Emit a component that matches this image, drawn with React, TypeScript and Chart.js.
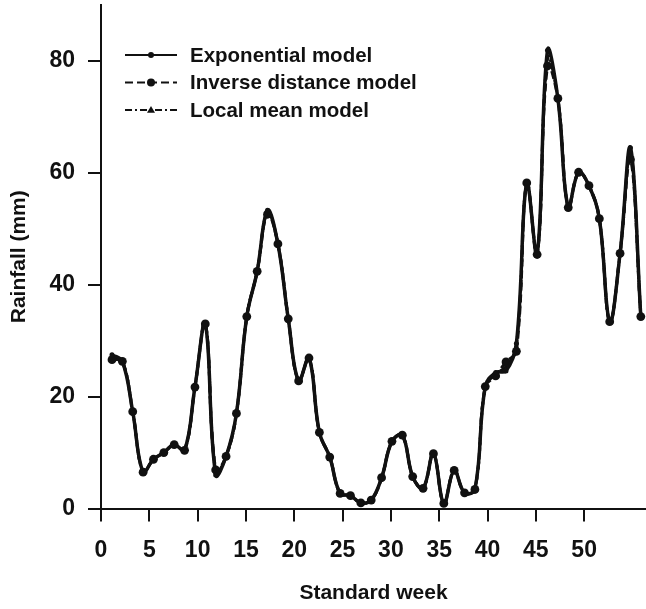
import React, { useEffect, useRef } from "react";
import { Chart, registerables } from "chart.js";

Chart.register(...registerables);

const weeks = [1, 2, 3, 4, 5, 6, 7, 8, 9, 10, 11, 12, 13, 14, 15, 16, 17, 18, 19, 20, 21, 22, 23, 24, 25, 26,
  27, 28, 29, 30, 31, 32, 33, 34, 35, 36, 37, 38, 39, 40, 41, 42, 43, 44, 45, 46, 47, 48, 49, 50, 51, 52];

const exponentialModel = [27.5, 26.3, 17.3, 6.5, 8.8, 10.0, 11.4, 10.4, 21.7, 33.0, 6.0, 9.3, 17.0, 34.3, 42.4, 53.3,
  47.3, 33.9, 22.8, 26.9, 13.6, 9.2, 2.7, 2.3, 1.0, 1.5, 5.5, 12.0, 13.1, 5.7, 3.6, 9.8, 0.9, 6.8, 2.8, 3.4,
  21.8, 24.3, 24.6, 29.5, 58.2, 45.4, 81.9, 73.3, 53.8, 60.1, 57.7, 51.8, 33.4, 45.6, 64.5, 34.3];

const inverseDistanceModel = [26.6, 26.3, 17.3, 6.5, 8.8, 10.0, 11.4, 10.4, 21.7, 33.0, 6.9, 9.3, 17.0, 34.3, 42.4, 52.6,
  47.3, 33.9, 22.8, 26.9, 13.6, 9.2, 2.7, 2.3, 1.0, 1.5, 5.5, 12.0, 13.1, 5.7, 3.6, 9.8, 0.9, 6.8, 2.8, 3.4,
  21.8, 23.7, 26.2, 28.1, 58.2, 45.4, 79.1, 73.3, 53.8, 60.1, 57.7, 51.8, 33.4, 45.6, 62.4, 34.3];

const localMeanModel = [27.0, 26.3, 17.3, 6.5, 8.8, 10.0, 11.4, 10.4, 21.7, 33.0, 6.5, 9.3, 17.0, 34.3, 42.4, 53.0,
  47.3, 33.9, 22.8, 26.9, 13.6, 9.2, 2.7, 2.3, 1.0, 1.5, 5.5, 12.0, 13.1, 5.7, 3.6, 9.8, 0.9, 6.8, 2.8, 3.4,
  21.8, 24.0, 25.4, 29.0, 58.2, 45.4, 80.5, 73.3, 53.8, 60.1, 57.7, 51.8, 33.4, 45.6, 63.5, 34.3];

const seriesLabels = ["Exponential model", "Inverse distance model", "Local mean model"];
const xTitle = "Standard week";
const yTitle = "Rainfall (mm)";

const INK = "#111111";
const FONT = "'Liberation Sans', Arial, Helvetica, sans-serif";

const legendPlugin = {
  id: "insideLegend",
  afterDraw(chart: any) {
    const ctx = chart.ctx;
    const x0 = 125;
    const x1 = 177;
    const mx = 151;
    const textX = 190;
    const y0 = 55;
    const dy = 27.5;
    chart.data.datasets.forEach((ds: any, i: number) => {
      const y = y0 + i * dy;
      ctx.save();
      ctx.strokeStyle = INK;
      ctx.lineWidth = 2;
      ctx.setLineDash(ds.borderDash || []);
      ctx.beginPath();
      ctx.moveTo(x0, y);
      ctx.lineTo(x1, y);
      ctx.stroke();
      ctx.setLineDash([]);
      ctx.fillStyle = INK;
      const r = ds.legendMarker;
      if (ds.pointStyle === "triangle") {
        ctx.beginPath();
        ctx.moveTo(mx, y - r);
        ctx.lineTo(mx + r, y + r * 0.7);
        ctx.lineTo(mx - r, y + r * 0.7);
        ctx.closePath();
        ctx.fill();
      } else {
        ctx.beginPath();
        ctx.arc(mx, y, r, 0, Math.PI * 2);
        ctx.fill();
      }
      ctx.font = `bold 20.5px ${FONT}`;
      ctx.textBaseline = "middle";
      ctx.textAlign = "left";
      ctx.fillText(ds.label, textX, y + 1);
      ctx.restore();
    });
  },
};

const zeroPad = (s: any) => {
  s.paddingLeft = 0;
  s.paddingRight = 0;
  s.paddingTop = 0;
  s.paddingBottom = 0;
};

export default function App() {
  const ref = useRef<HTMLCanvasElement | null>(null);

  useEffect(() => {
    if (!ref.current) return;
    const mk = (vals: number[]) => weeks.map((w, i) => ({ x: w, y: vals[i] }));
    const chart = new Chart(ref.current, {
      type: "line",
      data: {
        datasets: [
          {
            label: seriesLabels[0],
            data: mk(exponentialModel),
            borderColor: INK,
            backgroundColor: INK,
            borderWidth: 3.5,
            pointRadius: 2.5,
            pointStyle: "circle",
            pointBackgroundColor: INK,
            pointBorderWidth: 0,
            tension: 0.4,
            xAxisID: "xData",
            yAxisID: "y",
            legendMarker: 3,
          } as any,
          {
            label: seriesLabels[1],
            data: mk(inverseDistanceModel),
            borderColor: INK,
            backgroundColor: INK,
            borderWidth: 3,
            borderDash: [8, 4],
            pointRadius: 4.4,
            pointStyle: "circle",
            pointBackgroundColor: INK,
            pointBorderWidth: 0,
            tension: 0.4,
            xAxisID: "xData",
            yAxisID: "y",
            legendMarker: 4,
          } as any,
          {
            label: seriesLabels[2],
            data: mk(localMeanModel),
            borderColor: INK,
            backgroundColor: INK,
            borderWidth: 3,
            borderDash: [7, 3, 2, 3],
            pointRadius: 3,
            pointStyle: "triangle",
            pointBackgroundColor: INK,
            pointBorderWidth: 0,
            tension: 0.4,
            xAxisID: "xData",
            yAxisID: "y",
            legendMarker: 4,
          } as any,
        ],
      },
      options: {
        responsive: false,
        animation: false,
        devicePixelRatio: 1,
        layout: { autoPadding: false, padding: { top: 5, right: 0, left: 0, bottom: 0 } },
        plugins: {
          legend: { display: false },
          tooltip: { enabled: false },
          title: { display: false },
        },
        scales: {
          x: {
            type: "linear",
            position: "bottom",
            min: 0,
            max: 56.4,
            ticks: {
              stepSize: 5,
              includeBounds: false,
              color: INK,
              font: { family: FONT, size: 23, weight: "bold" },
              padding: 15,
              maxRotation: 0,
            },
            grid: {
              drawOnChartArea: false,
              drawTicks: true,
              tickLength: 13,
              color: INK,
              lineWidth: 2,
            },
            border: { display: true, color: INK, width: 2 },
            title: {
              display: true,
              text: xTitle,
              color: INK,
              font: { family: FONT, size: 21, weight: "bold" },
              padding: { top: 0, bottom: 3 },
            },
            afterBuildTicks: (s: any) => {
              s.ticks = s.ticks.filter((t: any) => t.value <= 50);
            },
            afterFit: (s: any) => {
              s.height = 100.5;
              zeroPad(s);
            },
          },
          xData: {
            type: "linear",
            position: "bottom",
            display: false,
            min: -0.06,
            max: 52.5,
            afterFit: zeroPad,
          },
          y: {
            type: "linear",
            position: "left",
            min: 0,
            max: 90,
            ticks: {
              stepSize: 20,
              includeBounds: false,
              color: INK,
              font: { family: FONT, size: 23, weight: "bold" },
              padding: 13,
            },
            grid: {
              drawOnChartArea: false,
              drawTicks: true,
              tickLength: 13,
              color: INK,
              lineWidth: 2,
            },
            border: { display: true, color: INK, width: 2 },
            title: {
              display: true,
              text: yTitle,
              color: INK,
              font: { family: FONT, size: 21, weight: "bold" },
              padding: { top: 6.4, bottom: 0 },
            },
            afterFit: (s: any) => {
              s.width = 101;
              zeroPad(s);
            },
          },
        },
      } as any,
      plugins: [legendPlugin],
    });
    return () => chart.destroy();
  }, []);

  return (
    <div style={{ position: "absolute", left: 0, top: 0, width: 646, height: 609, background: "#fff" }}>
      <canvas ref={ref} width={646} height={609} style={{ display: "block" }} />
    </div>
  );
}
